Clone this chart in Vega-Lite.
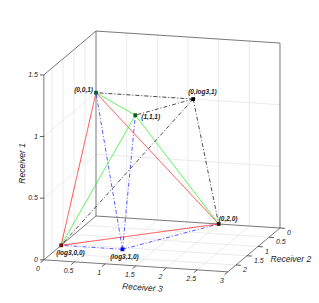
{
  "$schema": "https://vega.github.io/schema/vega-lite/v6.json",
  "width": 319,
  "height": 303,
  "autosize": {"type": "none"},
  "padding": 0,
  "background": "white",
  "config": {"view": {"stroke": null}, "text": {"font": "Liberation Sans", "fontStyle": "italic"}},
  "datasets": {
    "grid": [
      {"a3": 0.5, "a2": 0, "a1": 0, "b3": 0.5, "b2": 0, "b1": 1.5},
      {"a3": 1, "a2": 0, "a1": 0, "b3": 1, "b2": 0, "b1": 1.5},
      {"a3": 1.5, "a2": 0, "a1": 0, "b3": 1.5, "b2": 0, "b1": 1.5},
      {"a3": 2, "a2": 0, "a1": 0, "b3": 2, "b2": 0, "b1": 1.5},
      {"a3": 2.5, "a2": 0, "a1": 0, "b3": 2.5, "b2": 0, "b1": 1.5},
      {"a3": 0, "a2": 0, "a1": 0.5, "b3": 3, "b2": 0, "b1": 0.5},
      {"a3": 0, "a2": 0, "a1": 1, "b3": 3, "b2": 0, "b1": 1},
      {"a3": 0, "a2": 0.5, "a1": 0, "b3": 0, "b2": 0.5, "b1": 1.5},
      {"a3": 0, "a2": 1, "a1": 0, "b3": 0, "b2": 1, "b1": 1.5},
      {"a3": 0, "a2": 1.5, "a1": 0, "b3": 0, "b2": 1.5, "b1": 1.5},
      {"a3": 0, "a2": 2, "a1": 0, "b3": 0, "b2": 2, "b1": 1.5},
      {"a3": 0, "a2": 0, "a1": 0.5, "b3": 0, "b2": 2.37, "b1": 0.5},
      {"a3": 0, "a2": 0, "a1": 1, "b3": 0, "b2": 2.37, "b1": 1},
      {"a3": 0.5, "a2": 0, "a1": 0, "b3": 0.5, "b2": 2.37, "b1": 0},
      {"a3": 1, "a2": 0, "a1": 0, "b3": 1, "b2": 2.37, "b1": 0},
      {"a3": 1.5, "a2": 0, "a1": 0, "b3": 1.5, "b2": 2.37, "b1": 0},
      {"a3": 2, "a2": 0, "a1": 0, "b3": 2, "b2": 2.37, "b1": 0},
      {"a3": 2.5, "a2": 0, "a1": 0, "b3": 2.5, "b2": 2.37, "b1": 0},
      {"a3": 0, "a2": 0.5, "a1": 0, "b3": 3, "b2": 0.5, "b1": 0},
      {"a3": 0, "a2": 1, "a1": 0, "b3": 3, "b2": 1, "b1": 0},
      {"a3": 0, "a2": 1.5, "a1": 0, "b3": 3, "b2": 1.5, "b1": 0},
      {"a3": 0, "a2": 2, "a1": 0, "b3": 3, "b2": 2, "b1": 0}
    ],
    "edges": [
      {"a3": 0, "a2": 2.37, "a1": 0, "b3": 0, "b2": 2.37, "b1": 1.5},
      {"a3": 0, "a2": 0, "a1": 0, "b3": 0, "b2": 0, "b1": 1.5},
      {"a3": 3, "a2": 0, "a1": 0, "b3": 3, "b2": 0, "b1": 1.5},
      {"a3": 0, "a2": 2.37, "a1": 1.5, "b3": 0, "b2": 0, "b1": 1.5},
      {"a3": 0, "a2": 0, "a1": 1.5, "b3": 3, "b2": 0, "b1": 1.5},
      {"a3": 0, "a2": 2.37, "a1": 0, "b3": 3, "b2": 2.37, "b1": 0},
      {"a3": 3, "a2": 2.37, "a1": 0, "b3": 3, "b2": 0, "b1": 0},
      {"a3": 0, "a2": 0, "a1": 0, "b3": 3, "b2": 0, "b1": 0},
      {"a3": 0, "a2": 0, "a1": 0, "b3": 0, "b2": 2.37, "b1": 0}
    ],
    "segs": [
      {"s": "red", "a2": 0, "a3": 0, "a1": 1, "b2": 1.585, "b3": 0, "b1": 0},
      {"s": "red", "a2": 0, "a3": 0, "a1": 1, "b2": 0, "b3": 2, "b1": 0},
      {"s": "red", "a2": 1.585, "a3": 0, "a1": 0, "b2": 0, "b3": 2, "b1": 0},
      {"s": "green", "a2": 1, "a3": 1, "a1": 1, "b2": 0, "b3": 0, "b1": 1},
      {"s": "green", "a2": 1, "a3": 1, "a1": 1, "b2": 1.585, "b3": 0, "b1": 0},
      {"s": "green", "a2": 1, "a3": 1, "a1": 1, "b2": 0, "b3": 2, "b1": 0},
      {"s": "blue", "a2": 1.585, "a3": 1, "a1": 0, "b2": 0, "b3": 0, "b1": 1},
      {"s": "blue", "a2": 1.585, "a3": 1, "a1": 0, "b2": 1, "b3": 1, "b1": 1},
      {"s": "blue", "a2": 1.585, "a3": 1, "a1": 0, "b2": 1.585, "b3": 0, "b1": 0},
      {"s": "blue", "a2": 1.585, "a3": 1, "a1": 0, "b2": 0, "b3": 2, "b1": 0},
      {"s": "black", "a2": 0, "a3": 1.585, "a1": 1, "b2": 0, "b3": 0, "b1": 1},
      {"s": "black", "a2": 0, "a3": 1.585, "a1": 1, "b2": 1, "b3": 1, "b1": 1},
      {"s": "black", "a2": 0, "a3": 1.585, "a1": 1, "b2": 1.585, "b3": 0, "b1": 0},
      {"s": "black", "a2": 0, "a3": 1.585, "a1": 1, "b2": 0, "b3": 2, "b1": 0}
    ],
    "pts": [
      {"name": "(log3,0,0)", "r2": 1.585, "r3": 0, "r1": 0, "c": "#7a1010"},
      {"name": "(log3,1,0)", "r2": 1.585, "r3": 1, "r1": 0, "c": "#0000ee"},
      {"name": "(0,2,0)", "r2": 0, "r3": 2, "r1": 0, "c": "#3a0a0a"},
      {"name": "(0,0,1)", "r2": 0, "r3": 0, "r1": 1, "c": "#0a5a3a"},
      {"name": "(1,1,1)", "r2": 1, "r3": 1, "r1": 1, "c": "#0a5a0a"},
      {"name": "(0,log3,1)", "r2": 0, "r3": 1.585, "r1": 1, "c": "#000000"}
    ],
    "ticks": [
      {"ax": "z", "v": 0, "t": "0"}, {"ax": "z", "v": 0.5, "t": "0.5"}, {"ax": "z", "v": 1, "t": "1"}, {"ax": "z", "v": 1.5, "t": "1.5"},
      {"ax": "x", "v": 0, "t": "0"}, {"ax": "x", "v": 0.5, "t": "0.5"}, {"ax": "x", "v": 1, "t": "1"}, {"ax": "x", "v": 1.5, "t": "1.5"},
      {"ax": "x", "v": 2, "t": "2"}, {"ax": "x", "v": 2.5, "t": "2.5"}, {"ax": "x", "v": 3, "t": "3"},
      {"ax": "y", "v": 0, "t": "0"}, {"ax": "y", "v": 0.5, "t": "0.5"}, {"ax": "y", "v": 1, "t": "1"}, {"ax": "y", "v": 1.5, "t": "1.5"}, {"ax": "y", "v": 2, "t": "2"}
    ],
    "titles": [
      {"t": "Receiver 1", "r3": 0, "r2": 2.37, "r1": 0.75},
      {"t": "Receiver 3", "r3": 1.5, "r2": 2.37, "r1": 0},
      {"t": "Receiver 2", "r3": 3, "r2": 1.185, "r1": 0}
    ]
  },
  "layer": [
    {
      "data": {"name": "grid"},
      "transform": [
        {"calculate": "96 + 61.33*datum.a3 - 22*datum.a2", "as": "x1"},
        {"calculate": "216 + 4*datum.a3 + 18.5*datum.a2 - 123.3*datum.a1", "as": "y1"},
        {"calculate": "96 + 61.33*datum.b3 - 22*datum.b2", "as": "x2"},
        {"calculate": "216 + 4*datum.b3 + 18.5*datum.b2 - 123.3*datum.b1", "as": "y2"}
      ],
      "mark": {"type": "rule", "color": "#e3e3e3", "strokeWidth": 0.7},
      "encoding": {
        "x": {"field": "x1", "type": "quantitative", "scale": {"domain": [0, 319], "nice": false, "zero": false}, "axis": null},
        "y": {"field": "y1", "type": "quantitative", "scale": {"domain": [0, 303], "reverse": true, "nice": false, "zero": false}, "axis": null},
        "x2": {"field": "x2"},
        "y2": {"field": "y2"}
      }
    },
    {
      "data": {"name": "edges"},
      "transform": [
        {"calculate": "96 + 61.33*datum.a3 - 22*datum.a2", "as": "x1"},
        {"calculate": "216 + 4*datum.a3 + 18.5*datum.a2 - 123.3*datum.a1", "as": "y1"},
        {"calculate": "96 + 61.33*datum.b3 - 22*datum.b2", "as": "x2"},
        {"calculate": "216 + 4*datum.b3 + 18.5*datum.b2 - 123.3*datum.b1", "as": "y2"}
      ],
      "mark": {"type": "rule", "color": "#555555", "strokeWidth": 0.8},
      "encoding": {
        "x": {"field": "x1", "type": "quantitative"},
        "y": {"field": "y1", "type": "quantitative"},
        "x2": {"field": "x2"},
        "y2": {"field": "y2"}
      }
    },
    {
      "data": {"name": "ticks"},
      "transform": [
        {"filter": "datum.ax == 'z'"},
        {"calculate": "96 - 22*2.37", "as": "x1"},
        {"calculate": "216 + 18.5*2.37 - 123.3*datum.v", "as": "y1"},
        {"calculate": "datum.x1 - 4", "as": "x2"}
      ],
      "layer": [
        {
          "mark": {"type": "rule", "color": "#333333", "strokeWidth": 0.8},
          "encoding": {
            "x": {"field": "x1", "type": "quantitative"},
            "y": {"field": "y1", "type": "quantitative"},
            "x2": {"field": "x2"}
          }
        },
        {
          "mark": {"type": "text", "align": "right", "baseline": "middle", "dx": -6, "fontSize": 7, "color": "#222222"},
          "encoding": {
            "x": {"field": "x1", "type": "quantitative"},
            "y": {"field": "y1", "type": "quantitative"},
            "text": {"field": "t"}
          }
        }
      ]
    },
    {
      "data": {"name": "ticks"},
      "transform": [
        {"filter": "datum.ax == 'x'"},
        {"calculate": "96 + 61.33*datum.v - 22*2.37", "as": "x1"},
        {"calculate": "216 + 4*datum.v + 18.5*2.37", "as": "y1"},
        {"calculate": "96 + 61.33*datum.v - 22*2.52", "as": "x2"},
        {"calculate": "216 + 4*datum.v + 18.5*2.52", "as": "y2"}
      ],
      "layer": [
        {
          "mark": {"type": "rule", "color": "#333333", "strokeWidth": 0.8},
          "encoding": {
            "x": {"field": "x1", "type": "quantitative"},
            "y": {"field": "y1", "type": "quantitative"},
            "x2": {"field": "x2"},
            "y2": {"field": "y2"}
          }
        },
        {
          "mark": {"type": "text", "align": "center", "baseline": "middle", "dx": -6, "dy": 9.5, "fontSize": 7, "color": "#222222"},
          "encoding": {
            "x": {"field": "x1", "type": "quantitative"},
            "y": {"field": "y1", "type": "quantitative"},
            "text": {"field": "t"}
          }
        }
      ]
    },
    {
      "data": {"name": "ticks"},
      "transform": [
        {"filter": "datum.ax == 'y'"},
        {"calculate": "96 + 61.33*3 - 22*datum.v", "as": "x1"},
        {"calculate": "216 + 4*3 + 18.5*datum.v", "as": "y1"},
        {"calculate": "96 + 61.33*3.08 - 22*datum.v", "as": "x2"},
        {"calculate": "216 + 4*3.08 + 18.5*datum.v", "as": "y2"}
      ],
      "layer": [
        {
          "mark": {"type": "rule", "color": "#333333", "strokeWidth": 0.8},
          "encoding": {
            "x": {"field": "x1", "type": "quantitative"},
            "y": {"field": "y1", "type": "quantitative"},
            "x2": {"field": "x2"},
            "y2": {"field": "y2"}
          }
        },
        {
          "mark": {"type": "text", "align": "left", "baseline": "middle", "dx": 7, "dy": 5, "fontSize": 7, "color": "#222222"},
          "encoding": {
            "x": {"field": "x1", "type": "quantitative"},
            "y": {"field": "y1", "type": "quantitative"},
            "text": {"field": "t"}
          }
        }
      ]
    },
    {
      "data": {"name": "segs"},
      "transform": [
        {"calculate": "96 + 61.33*datum.a3 - 22*datum.a2", "as": "x1"},
        {"calculate": "216 + 4*datum.a3 + 18.5*datum.a2 - 123.3*datum.a1", "as": "y1"},
        {"calculate": "96 + 61.33*datum.b3 - 22*datum.b2", "as": "x2"},
        {"calculate": "216 + 4*datum.b3 + 18.5*datum.b2 - 123.3*datum.b1", "as": "y2"}
      ],
      "mark": {"type": "rule", "strokeWidth": 0.8},
      "encoding": {
        "x": {"field": "x1", "type": "quantitative"},
        "y": {"field": "y1", "type": "quantitative"},
        "x2": {"field": "x2"},
        "y2": {"field": "y2"},
        "color": {"field": "s", "type": "nominal", "scale": {"domain": ["red", "green", "blue", "black"], "range": ["#ff2020", "#20ee20", "#3030ff", "#222222"]}, "legend": null},
        "strokeDash": {"field": "s", "type": "nominal", "scale": {"domain": ["red", "green", "blue", "black"], "range": [[1, 0], [1, 0], [4, 2, 1, 2], [4, 2, 1, 2]]}, "legend": null}
      }
    },
    {
      "data": {"name": "pts"},
      "transform": [
        {"calculate": "96 + 61.33*datum.r3 - 22*datum.r2", "as": "px"},
        {"calculate": "216 + 4*datum.r3 + 18.5*datum.r2 - 123.3*datum.r1", "as": "py"}
      ],
      "mark": {"type": "square", "size": 14, "opacity": 1, "filled": true},
      "encoding": {
        "x": {"field": "px", "type": "quantitative"},
        "y": {"field": "py", "type": "quantitative"},
        "fill": {"field": "c", "type": "nominal", "scale": null}
      }
    },
    {
      "data": {"name": "pts"},
      "transform": [
        {"calculate": "96 + 61.33*datum.r3 - 22*datum.r2", "as": "px"},
        {"calculate": "216 + 4*datum.r3 + 18.5*datum.r2 - 123.3*datum.r1", "as": "py"}
      ],
      "layer": [
        {
          "transform": [{"filter": "datum.name == '(0,0,1)'"}],
          "mark": {"type": "text", "align": "right", "baseline": "middle", "dx": -3, "dy": -3, "fontSize": 6.5, "fontWeight": "bold", "color": "#222222"},
          "encoding": {"x": {"field": "px", "type": "quantitative"}, "y": {"field": "py", "type": "quantitative"}, "text": {"field": "name"}}
        },
        {
          "transform": [{"filter": "datum.name == '(1,1,1)'"}],
          "mark": {"type": "text", "align": "left", "baseline": "middle", "dx": 6, "dy": 2, "fontSize": 6.5, "fontWeight": "bold", "color": "#222222"},
          "encoding": {"x": {"field": "px", "type": "quantitative"}, "y": {"field": "py", "type": "quantitative"}, "text": {"field": "name"}}
        },
        {
          "transform": [{"filter": "datum.name == '(0,log3,1)'"}],
          "mark": {"type": "text", "align": "left", "baseline": "middle", "dx": -5, "dy": -7, "fontSize": 6.5, "fontWeight": "bold", "color": "#222222"},
          "encoding": {"x": {"field": "px", "type": "quantitative"}, "y": {"field": "py", "type": "quantitative"}, "text": {"field": "name"}}
        },
        {
          "transform": [{"filter": "datum.name == '(log3,0,0)'"}],
          "mark": {"type": "text", "align": "left", "baseline": "middle", "dx": -5, "dy": 8, "fontSize": 6.5, "fontWeight": "bold", "color": "#222222"},
          "encoding": {"x": {"field": "px", "type": "quantitative"}, "y": {"field": "py", "type": "quantitative"}, "text": {"field": "name"}}
        },
        {
          "transform": [{"filter": "datum.name == '(log3,1,0)'"}],
          "mark": {"type": "text", "align": "center", "baseline": "middle", "dx": 2, "dy": 8, "fontSize": 6.5, "fontWeight": "bold", "color": "#222222"},
          "encoding": {"x": {"field": "px", "type": "quantitative"}, "y": {"field": "py", "type": "quantitative"}, "text": {"field": "name"}}
        },
        {
          "transform": [{"filter": "datum.name == '(0,2,0)'"}],
          "mark": {"type": "text", "align": "left", "baseline": "middle", "dx": 0, "dy": -5, "fontSize": 6.5, "fontWeight": "bold", "color": "#222222"},
          "encoding": {"x": {"field": "px", "type": "quantitative"}, "y": {"field": "py", "type": "quantitative"}, "text": {"field": "name"}}
        }
      ]
    },
    {
      "data": {"name": "titles"},
      "transform": [
        {"calculate": "96 + 61.33*datum.r3 - 22*datum.r2", "as": "px"},
        {"calculate": "216 + 4*datum.r3 + 18.5*datum.r2 - 123.3*datum.r1", "as": "py"}
      ],
      "layer": [
        {
          "transform": [{"filter": "datum.t == 'Receiver 1'"}],
          "mark": {"type": "text", "align": "center", "baseline": "middle", "angle": 270, "dx": 4, "dy": -22, "fontSize": 8.5, "color": "#222222"},
          "encoding": {"x": {"field": "px", "type": "quantitative"}, "y": {"field": "py", "type": "quantitative"}, "text": {"field": "t"}}
        },
        {
          "transform": [{"filter": "datum.t == 'Receiver 3'"}],
          "mark": {"type": "text", "align": "center", "baseline": "middle", "angle": 4, "dx": 8, "dy": 21, "fontSize": 8.5, "color": "#222222"},
          "encoding": {"x": {"field": "px", "type": "quantitative"}, "y": {"field": "py", "type": "quantitative"}, "text": {"field": "t"}}
        },
        {
          "transform": [{"filter": "datum.t == 'Receiver 2'"}],
          "mark": {"type": "text", "align": "center", "baseline": "middle", "dx": 37, "dy": 9.5, "fontSize": 8.5, "color": "#222222"},
          "encoding": {"x": {"field": "px", "type": "quantitative"}, "y": {"field": "py", "type": "quantitative"}, "text": {"field": "t"}}
        }
      ]
    }
  ]
}
